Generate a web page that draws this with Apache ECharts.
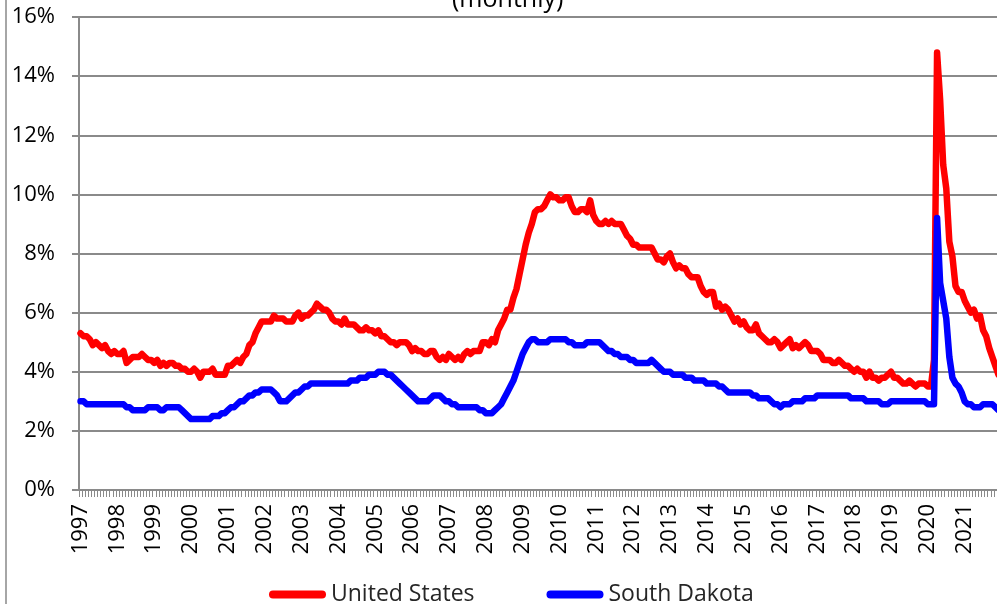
<!DOCTYPE html>
<html>
<head>
<meta charset="utf-8">
<script src="https://cdn.jsdelivr.net/npm/echarts@6/dist/echarts.min.js"></script>
<style>
  html, body { margin: 0; padding: 0; background: #fff; }
  #chart { width: 997px; height: 604px; }
</style>
</head>
<body>
<div id="chart"></div>
<script>
// years shown on the axis (one label per January)
var years = ['1997', '1998', '1999', '2000', '2001', '2002', '2003', '2004', '2005',
  '2006', '2007', '2008', '2009', '2010', '2011', '2012', '2013', '2014', '2015',
  '2016', '2017', '2018', '2019', '2020', '2021'];
var monthNames = ['Jan', 'Feb', 'Mar', 'Apr', 'May', 'Jun', 'Jul', 'Aug', 'Sep', 'Oct', 'Nov', 'Dec'];
var yTicks = [0, 2, 4, 6, 8, 10, 12, 14, 16];

// monthly unemployment rate, %, Jan..Dec per row
var usRate = [
  5.3, 5.2, 5.2, 5.1, 4.9, 5.0, 4.9, 4.8, 4.9, 4.7, 4.6, 4.7, // 1997
  4.6, 4.6, 4.7, 4.3, 4.4, 4.5, 4.5, 4.5, 4.6, 4.5, 4.4, 4.4, // 1998
  4.3, 4.4, 4.2, 4.3, 4.2, 4.3, 4.3, 4.2, 4.2, 4.1, 4.1, 4.0, // 1999
  4.0, 4.1, 4.0, 3.8, 4.0, 4.0, 4.0, 4.1, 3.9, 3.9, 3.9, 3.9, // 2000
  4.2, 4.2, 4.3, 4.4, 4.3, 4.5, 4.6, 4.9, 5.0, 5.3, 5.5, 5.7, // 2001
  5.7, 5.7, 5.7, 5.9, 5.8, 5.8, 5.8, 5.7, 5.7, 5.7, 5.9, 6.0, // 2002
  5.8, 5.9, 5.9, 6.0, 6.1, 6.3, 6.2, 6.1, 6.1, 6.0, 5.8, 5.7, // 2003
  5.7, 5.6, 5.8, 5.6, 5.6, 5.6, 5.5, 5.4, 5.4, 5.5, 5.4, 5.4, // 2004
  5.3, 5.4, 5.2, 5.2, 5.1, 5.0, 5.0, 4.9, 5.0, 5.0, 5.0, 4.9, // 2005
  4.7, 4.8, 4.7, 4.7, 4.6, 4.6, 4.7, 4.7, 4.5, 4.4, 4.5, 4.4, // 2006
  4.6, 4.5, 4.4, 4.5, 4.4, 4.6, 4.7, 4.6, 4.7, 4.7, 4.7, 5.0, // 2007
  5.0, 4.9, 5.1, 5.0, 5.4, 5.6, 5.8, 6.1, 6.1, 6.5, 6.8, 7.3, // 2008
  7.8, 8.3, 8.7, 9.0, 9.4, 9.5, 9.5, 9.6, 9.8, 10.0, 9.9, 9.9, // 2009
  9.8, 9.8, 9.9, 9.9, 9.6, 9.4, 9.4, 9.5, 9.5, 9.4, 9.8, 9.3, // 2010
  9.1, 9.0, 9.0, 9.1, 9.0, 9.1, 9.0, 9.0, 9.0, 8.8, 8.6, 8.5, // 2011
  8.3, 8.3, 8.2, 8.2, 8.2, 8.2, 8.2, 8.0, 7.8, 7.8, 7.7, 7.9, // 2012
  8.0, 7.7, 7.5, 7.6, 7.5, 7.5, 7.3, 7.2, 7.2, 7.2, 6.9, 6.7, // 2013
  6.6, 6.7, 6.7, 6.2, 6.3, 6.1, 6.2, 6.1, 5.9, 5.7, 5.8, 5.6, // 2014
  5.7, 5.5, 5.4, 5.4, 5.6, 5.3, 5.2, 5.1, 5.0, 5.0, 5.1, 5.0, // 2015
  4.8, 4.9, 5.0, 5.1, 4.8, 4.9, 4.8, 4.9, 5.0, 4.9, 4.7, 4.7, // 2016
  4.7, 4.6, 4.4, 4.4, 4.4, 4.3, 4.3, 4.4, 4.3, 4.2, 4.2, 4.1, // 2017
  4.0, 4.1, 4.0, 4.0, 3.8, 4.0, 3.8, 3.8, 3.7, 3.8, 3.8, 3.9, // 2018
  4.0, 3.8, 3.8, 3.7, 3.6, 3.6, 3.7, 3.6, 3.5, 3.6, 3.6, 3.6, // 2019
  3.5, 3.5, 4.4, 14.8, 13.2, 11.0, 10.2, 8.4, 7.9, 6.9, 6.7, 6.7, // 2020
  6.4, 6.2, 6.0, 6.1, 5.8, 5.9, 5.4, 5.2, 4.8, 4.5, 4.2, 3.9  // 2021
];

var sdRate = [
  3.0, 3.0, 2.9, 2.9, 2.9, 2.9, 2.9, 2.9, 2.9, 2.9, 2.9, 2.9, // 1997
  2.9, 2.9, 2.9, 2.8, 2.8, 2.7, 2.7, 2.7, 2.7, 2.7, 2.8, 2.8, // 1998
  2.8, 2.8, 2.7, 2.7, 2.8, 2.8, 2.8, 2.8, 2.8, 2.7, 2.6, 2.5, // 1999
  2.4, 2.4, 2.4, 2.4, 2.4, 2.4, 2.4, 2.5, 2.5, 2.5, 2.6, 2.6, // 2000
  2.7, 2.8, 2.8, 2.9, 3.0, 3.0, 3.1, 3.2, 3.2, 3.3, 3.3, 3.4, // 2001
  3.4, 3.4, 3.4, 3.3, 3.2, 3.0, 3.0, 3.0, 3.1, 3.2, 3.3, 3.3, // 2002
  3.4, 3.5, 3.5, 3.6, 3.6, 3.6, 3.6, 3.6, 3.6, 3.6, 3.6, 3.6, // 2003
  3.6, 3.6, 3.6, 3.6, 3.7, 3.7, 3.7, 3.8, 3.8, 3.8, 3.9, 3.9, // 2004
  3.9, 4.0, 4.0, 4.0, 3.9, 3.9, 3.8, 3.7, 3.6, 3.5, 3.4, 3.3, // 2005
  3.2, 3.1, 3.0, 3.0, 3.0, 3.0, 3.1, 3.2, 3.2, 3.2, 3.1, 3.0, // 2006
  3.0, 2.9, 2.9, 2.8, 2.8, 2.8, 2.8, 2.8, 2.8, 2.8, 2.7, 2.7, // 2007
  2.6, 2.6, 2.6, 2.7, 2.8, 2.9, 3.1, 3.3, 3.5, 3.7, 4.0, 4.3, // 2008
  4.6, 4.8, 5.0, 5.1, 5.1, 5.0, 5.0, 5.0, 5.0, 5.1, 5.1, 5.1, // 2009
  5.1, 5.1, 5.1, 5.0, 5.0, 4.9, 4.9, 4.9, 4.9, 5.0, 5.0, 5.0, // 2010
  5.0, 5.0, 4.9, 4.8, 4.7, 4.7, 4.6, 4.6, 4.5, 4.5, 4.5, 4.4, // 2011
  4.4, 4.3, 4.3, 4.3, 4.3, 4.3, 4.4, 4.3, 4.2, 4.1, 4.0, 4.0, // 2012
  4.0, 3.9, 3.9, 3.9, 3.9, 3.8, 3.8, 3.8, 3.7, 3.7, 3.7, 3.7, // 2013
  3.6, 3.6, 3.6, 3.6, 3.5, 3.5, 3.4, 3.3, 3.3, 3.3, 3.3, 3.3, // 2014
  3.3, 3.3, 3.3, 3.2, 3.2, 3.1, 3.1, 3.1, 3.1, 3.0, 2.9, 2.9, // 2015
  2.8, 2.9, 2.9, 2.9, 3.0, 3.0, 3.0, 3.0, 3.1, 3.1, 3.1, 3.1, // 2016
  3.2, 3.2, 3.2, 3.2, 3.2, 3.2, 3.2, 3.2, 3.2, 3.2, 3.2, 3.1, // 2017
  3.1, 3.1, 3.1, 3.1, 3.0, 3.0, 3.0, 3.0, 3.0, 2.9, 2.9, 2.9, // 2018
  3.0, 3.0, 3.0, 3.0, 3.0, 3.0, 3.0, 3.0, 3.0, 3.0, 3.0, 3.0, // 2019
  2.9, 2.9, 2.9, 9.2, 7.0, 6.4, 5.8, 4.5, 3.8, 3.6, 3.5, 3.3, // 2020
  3.0, 2.9, 2.9, 2.8, 2.8, 2.8, 2.9, 2.9, 2.9, 2.9, 2.8, 2.7  // 2021
];

var months = [];
for (var i = 0; i < years.length; i++) {
  for (var j = 0; j < 12; j++) {
    months.push(monthNames[j] + ' ' + years[i]);
  }
}

var font = "'Open Sans', 'Noto Sans', sans-serif";
var gridColor = '#8a8a8a';
var chart = echarts.init(document.getElementById('chart'), null, { renderer: 'canvas' });

chart.setOption({
  animation: false,
  backgroundColor: '#fff',
  title: {
    text: '(monthly)',
    left: 447,
    top: -18,
    textStyle: { fontFamily: font, fontSize: 25, fontWeight: 'normal', color: '#000' }
  },
  graphic: [{
    type: 'line',
    shape: { x1: 6, y1: 0, x2: 6, y2: 604 },
    style: { stroke: '#a6a6a6', lineWidth: 2 }
  }],
  legend: {
    left: 264,
    top: 578,
    itemWidth: 57,
    itemHeight: 8,
    itemGap: 72,
    icon: 'path://M4,0 L53,0 A4,4 0 0 1 53,8 L4,8 A4,4 0 0 1 4,0 Z',
    textStyle: { fontFamily: font, fontSize: 23, color: '#262626' },
    data: ['United States', 'South Dakota']
  },
  grid: { left: 79, right: -3, top: 17, bottom: 114, containLabel: false, outerBoundsMode: 'none' },
  xAxis: {
    type: 'category',
    data: months,
    boundaryGap: true,
    axisLine: { lineStyle: { color: gridColor, width: 2 } },
    axisTick: { show: true, interval: 0, length: 7, lineStyle: { color: gridColor, width: 1 } },
    axisLabel: {
      interval: 11,
      rotate: 90,
      margin: 14,
      fontFamily: font,
      fontSize: 22,
      color: '#000',
      formatter: function(v) { return v.split(' ')[1]; }
    },
    splitLine: { show: false }
  },
  yAxis: {
    type: 'value',
    min: yTicks[0],
    max: yTicks[yTicks.length - 1],
    interval: yTicks[1] - yTicks[0],
    axisLine: { show: true, lineStyle: { color: gridColor, width: 2 } },
    axisTick: { show: true, length: 7, lineStyle: { color: gridColor, width: 2 } },
    axisLabel: { margin: 24, fontFamily: font, fontSize: 22, color: '#000', formatter: '{value}%' },
    splitLine: { show: true, lineStyle: { color: gridColor, width: 2 } }
  },
  series: [
    {
      name: 'United States',
      type: 'line',
      data: usRate,
      showSymbol: false,
      color: '#ff0000',
      lineStyle: { width: 6.5, color: '#ff0000', cap: 'round', join: 'round' }
    },
    {
      name: 'South Dakota',
      type: 'line',
      data: sdRate,
      showSymbol: false,
      color: '#0000ff',
      lineStyle: { width: 6.5, color: '#0000ff', cap: 'round', join: 'round' }
    }
  ]
});
</script>
</body>
</html>
